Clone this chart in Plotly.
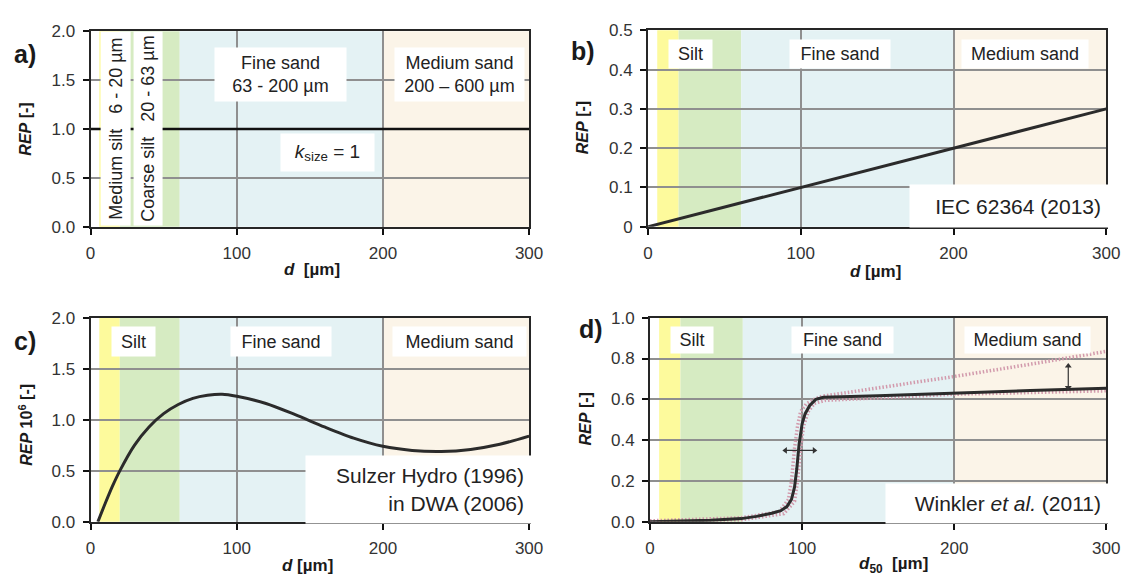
import plotly.graph_objects as go

W, H = 1137, 588

# ---------------- data ----------------
band_edges = [6, 20, 61, 200, 300]
band_colors = ['#fdfa9c', '#d6ebc2', '#e4f2f4', '#fbf4e8']

d_a = [0, 300]
rep_a = [1.0, 1.0]

d_b = [0, 300]
rep_b = [0.0, 0.3]

d_c = [5, 10, 15, 20, 30, 40, 50, 60, 70, 80, 90, 100, 120, 140, 160, 180, 200, 220, 240, 260, 280, 300]
rep_c = [0.0, 0.18, 0.35, 0.50, 0.75, 0.93, 1.06, 1.15, 1.21, 1.24, 1.25, 1.23, 1.16, 1.05, 0.93, 0.82, 0.74, 0.70, 0.69, 0.71, 0.76, 0.84]

d_d = [0, 20, 40, 60, 70, 80, 86, 90, 93, 95, 96.5, 98, 100, 102, 105, 109, 114, 150, 200, 250, 300]
rep_d = [0.0, 0.003, 0.008, 0.016, 0.027, 0.042, 0.055, 0.075, 0.11, 0.17, 0.26, 0.38, 0.48, 0.53, 0.57, 0.60, 0.61, 0.618, 0.632, 0.643, 0.655]

d_up = [0, 60, 85, 91, 93, 95, 97, 99, 103, 108, 113, 150, 200, 250, 300]
rep_up = [0.005, 0.02, 0.05, 0.11, 0.2, 0.36, 0.47, 0.54, 0.58, 0.60, 0.615, 0.655, 0.712, 0.772, 0.835]

d_lo = [0, 60, 88, 95, 97, 99, 101, 104, 108, 115, 200, 300]
rep_lo = [0.0, 0.01, 0.04, 0.10, 0.2, 0.36, 0.47, 0.54, 0.58, 0.595, 0.625, 0.642]

# double arrows in panel d (range markers)
arrow_v_d = [275, 275]
arrow_v_rep = [0.658, 0.764]
arrow_h_d = [89, 108]
arrow_h_rep = [0.35, 0.35]

# ---------------- helpers ----------------
FONT = 'Arial, Liberation Sans, sans-serif'
TXT = '#222222'

def px(x):
    return x / W

def py(y):
    return 1 - y / H

panels = {
    'a': dict(xa='xaxis', ya='yaxis', xr='x', yr='y', x=(87, 533), y=(23, 225)),
    'b': dict(xa='xaxis2', ya='yaxis2', xr='x2', yr='y2', x=(654, 1120), y=(22, 225)),
    'c': dict(xa='xaxis3', ya='yaxis3', xr='x3', yr='y3', x=(87, 533), y=(319, 530)),
    'd': dict(xa='xaxis4', ya='yaxis4', xr='x4', yr='y4', x=(656, 1120), y=(319, 530)),
}

fig = go.Figure()

fig.add_trace(go.Scatter(x=d_a, y=rep_a, mode='lines', xaxis='x', yaxis='y',
                         line=dict(color='#111111', width=2.5), showlegend=False))
fig.add_trace(go.Scatter(x=d_b, y=rep_b, mode='lines', xaxis='x2', yaxis='y2',
                         line=dict(color='#2b2b2b', width=3), showlegend=False))
fig.add_trace(go.Scatter(x=d_c, y=rep_c, mode='lines', xaxis='x3', yaxis='y3',
                         line=dict(color='#2b2b2b', width=3, shape='spline', smoothing=0.8),
                         showlegend=False))
for xs, ys in ((d_up, rep_up), (d_lo, rep_lo)):
    fig.add_trace(go.Scatter(x=xs, y=ys, mode='lines', xaxis='x4', yaxis='y4',
                             line=dict(color='#d29aac', width=3.5, dash='1.5px,2px'),
                             showlegend=False))
fig.add_trace(go.Scatter(x=d_d, y=rep_d, mode='lines', xaxis='x4', yaxis='y4',
                         line=dict(color='#2b2b2b', width=3), showlegend=False))
fig.add_trace(go.Scatter(x=arrow_v_d, y=arrow_v_rep, mode='lines+markers', xaxis='x4', yaxis='y4',
                         line=dict(color='#333333', width=1.2),
                         marker=dict(symbol=['triangle-down', 'triangle-up'], size=6, color='#333333'),
                         showlegend=False))
fig.add_trace(go.Scatter(x=arrow_h_d, y=arrow_h_rep, mode='lines+markers', xaxis='x4', yaxis='y4',
                         line=dict(color='#333333', width=1.2),
                         marker=dict(symbol=['triangle-left', 'triangle-right'], size=6, color='#333333'),
                         showlegend=False))

ranges = {'a': [0, 2], 'b': [0, 0.5], 'c': [0, 2], 'd': [0, 1]}
dticks = {'a': 0.5, 'b': 0.1, 'c': 0.5, 'd': 0.2}
fmts = {'a': '.1f', 'b': '', 'c': '.1f', 'd': '.1f'}
axis_common = dict(showline=True, linecolor='#262626', linewidth=2, mirror=True,
                   ticks='outside', ticklen=6, tickwidth=1.5, tickcolor='#111111',
                   ticklabelstandoff=4,
                   showgrid=True, gridcolor='#8f8f8f', gridwidth=1.5, zeroline=False,
                   tickfont=dict(family=FONT, size=17, color='#333333'), fixedrange=True)
shapes = []
for k, p in panels.items():
    fig.layout[p['xa']] = dict(domain=[px(p['x'][0]), px(p['x'][1])], anchor=p['yr'],
                               range=[0, 300], tickvals=[0, 100, 200, 300], **axis_common)
    fig.layout[p['ya']] = dict(domain=[py(p['y'][1]), py(p['y'][0])], anchor=p['xr'],
                               range=ranges[k], dtick=dticks[k], tick0=0,
                               tickformat=fmts[k], **axis_common)
    for i, col in enumerate(band_colors):
        shapes.append(dict(type='rect', xref=p['xr'], yref=p['yr'] + ' domain',
                           x0=band_edges[i], x1=band_edges[i + 1], y0=0, y1=1,
                           fillcolor=col, line=dict(width=0), layer='below'))

ann = []

def box(text, x0, x1, y0, y1, size=18, align='center', angle=0, pad=0):
    w = x1 - x0
    h = y1 - y0
    if angle:
        w, h = h, w
    ann.append(dict(text=text, xref='paper', yref='paper',
                    x=px((x0 + x1) / 2), y=py((y0 + y1) / 2),
                    xanchor='center', yanchor='middle', showarrow=False,
                    width=max(w - 2 * pad, 1), height=max(h - 2 * pad, 1), borderpad=pad,
                    bgcolor='white', align=align, valign='middle', textangle=angle,
                    font=dict(family=FONT, size=size, color=TXT)))

def label(text, x, y, size=16, angle=0):
    ann.append(dict(text=text, xref='paper', yref='paper', x=px(x), y=py(y),
                    xanchor='center', yanchor='middle', showarrow=False, textangle=angle,
                    font=dict(family=FONT, size=size, color='#1a1a1a')))

NB = '\u00a0'
# panel a
box('Medium silt' + NB * 3 + '6 - 20 µm', 98, 127, 27, 220, size=18, angle=-90)
box('Coarse silt' + NB * 3 + '20 - 63 µm', 131, 159, 27, 220, size=18, angle=-90)
box('Fine sand<br>63 - 200 µm', 215, 346, 41, 94, size=18)
box('Medium sand<br>200 – 600 µm', 398, 527, 41, 94, size=18)
box('<i>k</i><sub>size</sub> = 1', 281, 374, 130, 167, size=19)
# panel b
box('Silt', 676, 719, 32, 60, size=18)
box('Fine sand', 799, 899, 32, 60, size=18)
box('Medium sand', 974, 1100, 32, 60, size=18)
box('IEC 62364 (2013)', 922, 1120, 183, 225, size=21, align='right', pad=7)
# panel c
box('Silt', 109, 152, 329, 358, size=18)
box('Fine sand', 231, 331, 329, 358, size=18)
box('Medium sand', 396, 529, 329, 358, size=18)
box('Sulzer Hydro (1996)<br>in DWA (2006)', 308, 533, 463, 530, size=21, align='right', pad=7)
# panel d
box('Silt', 678, 720, 329, 355, size=18)
box('Fine sand', 801, 902, 329, 355, size=18)
box('Medium sand', 977, 1102, 329, 355, size=18)
box('Winkler <i>et al.</i> (2011)', 898, 1120, 491, 530, size=21, align='right', pad=7)

for t, x, y in (('a)', 20, 47), ('b)', 588, 43), ('c)', 20, 343), ('d)', 596, 331)):
    label('<b>' + t + '</b>', x, y, size=25)

label('<b><i>REP</i> [-]</b>', 21, 124, size=16, angle=-90)
label('<b><i>REP</i> [-]</b>', 587, 123, size=16, angle=-90)
label('<b><i>REP</i> 10<sup>6</sup> [-]</b>', 21, 430, size=16, angle=-90)
label('<b><i>REP</i> [-]</b>', 590, 424, size=16, angle=-90)
label('<b><i>d</i>' + NB * 2 + '[µm]</b>', 312, 269, size=17)
label('<b><i>d</i> [µm]</b>', 885, 271, size=17)
label('<b><i>d</i> [µm]</b>', 308, 575, size=17)
label('<b><i>d</i><sub>50</sub>' + NB * 2 + '[µm]</b>', 904, 575, size=17)

fig.update_layout(width=W, height=H, margin=dict(l=0, r=0, t=0, b=0),
                  paper_bgcolor='white', plot_bgcolor='white',
                  shapes=shapes, annotations=ann, showlegend=False,
                  font=dict(family=FONT, color=TXT))

fig.write_html('out.html', config={'displayModeBar': False})
